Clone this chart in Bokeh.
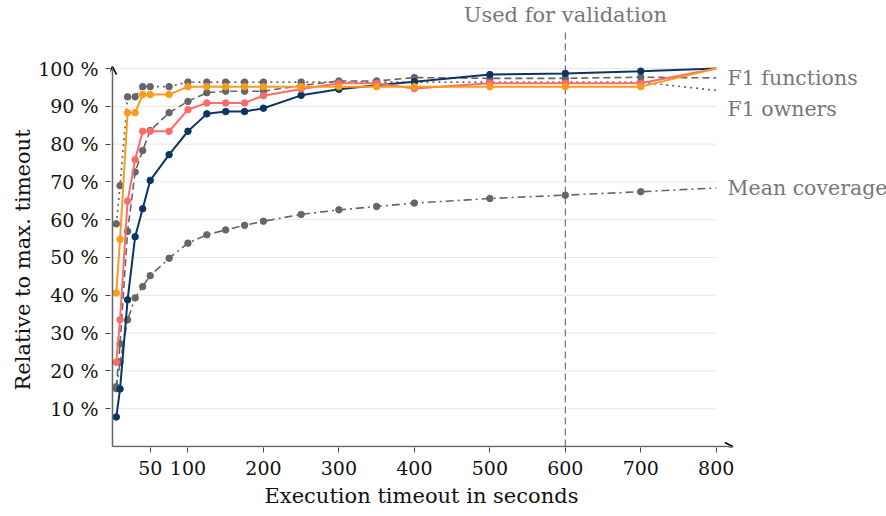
from bokeh.plotting import figure
from bokeh.models import Range1d, FixedTicker, Arrow, OpenHead, Label, Title
from bokeh.embed import file_html
from bokeh.resources import INLINE

# ---------------- data ----------------
timeouts = [5, 10, 20, 30, 40, 50, 75, 100, 125, 150, 175, 200, 250, 300, 350, 400, 500, 600, 700, 800]

series_blue = [7.8, 15.2, 38.8, 55.5, 62.9, 70.4, 77.2, 83.4, 88.0, 88.6, 88.6, 89.5, 92.9, 94.5, 95.6, 96.5, 98.4, 98.7, 99.3, 100.0]
series_pink = [22.3, 33.5, 64.9, 75.9, 83.4, 83.4, 83.4, 89.1, 90.9, 90.9, 90.9, 92.8, 94.6, 96.1, 96.1, 94.7, 96.1, 96.1, 96.1, 100.0]
series_orange = [40.6, 54.8, 88.3, 88.3, 93.1, 93.1, 93.1, 95.2, 95.2, 95.2, 95.2, 95.2, 95.2, 95.2, 95.2, 95.2, 95.2, 95.2, 95.2, 100.0]

f1_functions = [15.8, 27.2, 56.9, 72.6, 78.3, 83.6, 88.3, 91.3, 93.6, 94.0, 94.0, 94.0, 95.5, 96.7, 96.7, 97.6, 97.4, 97.4, 97.7, 97.5]
f1_owners = [58.9, 69.0, 92.5, 92.5, 95.2, 95.2, 95.2, 96.4, 96.4, 96.4, 96.4, 96.4, 96.4, 96.4, 96.4, 96.4, 96.4, 96.4, 96.4, 94.2]
mean_coverage = [15.3, 22.3, 33.5, 39.3, 42.3, 45.2, 49.8, 53.8, 56.0, 57.3, 58.5, 59.6, 61.4, 62.6, 63.5, 64.4, 65.6, 66.5, 67.4, 68.4]

x_ticks = [50, 100, 200, 300, 400, 500, 600, 700, 800]
y_ticks = [10, 20, 30, 40, 50, 60, 70, 80, 90, 100]
validation_timeout = 600

x_title = "Execution timeout in seconds"
y_title = "Relative to max. timeout"
validation_text = "Used for validation"

# ---------------- style ----------------
FONT = "DejaVu Serif"
GRAY = "#666666"
TEXT_GRAY = "#777777"
BLUE = "#0b3563"
PINK = "#fd6b6b"
ORANGE = "#fb9b1d"
X_AXIS_END = 822
Y_AXIS_END = 100.5

p = figure(width=886, height=516,
           x_range=Range1d(-2.65, 1025.6), y_range=Range1d(-0.265, 117.99),
           output_backend="svg", toolbar_location=None,
           min_border_left=110, min_border_right=0, min_border_top=0, min_border_bottom=69)
p.outline_line_color = None
p.background_fill_color = "white"
p.border_fill_color = "white"
p.xgrid.visible = False
p.ygrid.visible = False

for ax in (p.xaxis[0], p.yaxis[0]):
    ax.axis_line_color = None
    ax.major_tick_out = 5
    ax.major_tick_in = 0
    ax.minor_tick_out = 0
    ax.minor_tick_in = 0
    ax.major_tick_line_color = "#444444"
    ax.major_tick_line_width = 1
    ax.major_label_text_font = FONT
    ax.major_label_text_font_size = "19px"
    ax.major_label_text_color = "#111111"

p.xaxis.ticker = FixedTicker(ticks=x_ticks)
p.yaxis.ticker = FixedTicker(ticks=y_ticks)
p.yaxis.major_label_overrides = {t: f"{t} %" for t in y_ticks}
p.yaxis.major_label_standoff = 7
p.xaxis.major_label_standoff = 8

# axis titles, centred on the drawn axis lines rather than on the frame
p.add_layout(Title(text=x_title, align="left", offset=154, standoff=9,
                   text_font=FONT, text_font_size="21px", text_font_style="normal",
                   text_color="#111111"), "below")
p.add_layout(Title(text=y_title, align="left", offset=57, standoff=2,
                   text_font=FONT, text_font_size="21px", text_font_style="normal",
                   text_color="#111111"), "left")

# horizontal grid lines spanning the data domain
p.segment(x0=0, y0=y_ticks, x1=max(timeouts), y1=y_ticks,
          line_color="#e8e8e8", line_width=1)

# validation marker
p.segment(x0=[validation_timeout], y0=[0], x1=[validation_timeout], y1=[110.5],
          line_color="#555555", line_width=1, line_dash="7 4")
p.add_layout(Label(x=validation_timeout, y=114.2, text=validation_text,
                   text_align="center", text_baseline="alphabetic",
                   text_font=FONT, text_font_size="21px", text_color=TEXT_GRAY))

# series
def draw(ys, color, dash, width):
    p.line(timeouts, ys, line_color=color, line_width=width, line_dash=dash)
    p.scatter(timeouts[:-1], ys[:-1], size=6.5, fill_color=color, line_color=color)

draw(mean_coverage, GRAY, "8 4 2 4", 1.6)
draw(f1_owners, GRAY, "2 4", 1.7)
draw(f1_functions, GRAY, "7 4", 1.6)
draw(series_blue, BLUE, "solid", 2)
draw(series_pink, PINK, "solid", 2)
draw(series_orange, ORANGE, "solid", 2)

# axes with arrows
p.add_layout(Arrow(end=OpenHead(size=8, line_color="black", line_width=1.5),
                   x_start=0, y_start=0, x_end=X_AXIS_END, y_end=0,
                   line_color=GRAY, line_width=1.5))
p.add_layout(Arrow(end=OpenHead(size=8, line_color="black", line_width=1.5),
                   x_start=0, y_start=0, x_end=0, y_end=Y_AXIS_END,
                   line_color=GRAY, line_width=1.5))

# right-hand labels
label_x = 815
for text, yv in (("F1 functions", f1_functions[-1]),
                 ("F1 owners", f1_owners[-1] - 4.8),
                 ("Mean coverage", mean_coverage[-1])):
    p.add_layout(Label(x=label_x, y=yv, text=text, text_align="left",
                       text_baseline="middle", text_font=FONT,
                       text_font_size="20.5px", text_color=TEXT_GRAY))

open("out.html", "w").write(file_html(p, INLINE))
